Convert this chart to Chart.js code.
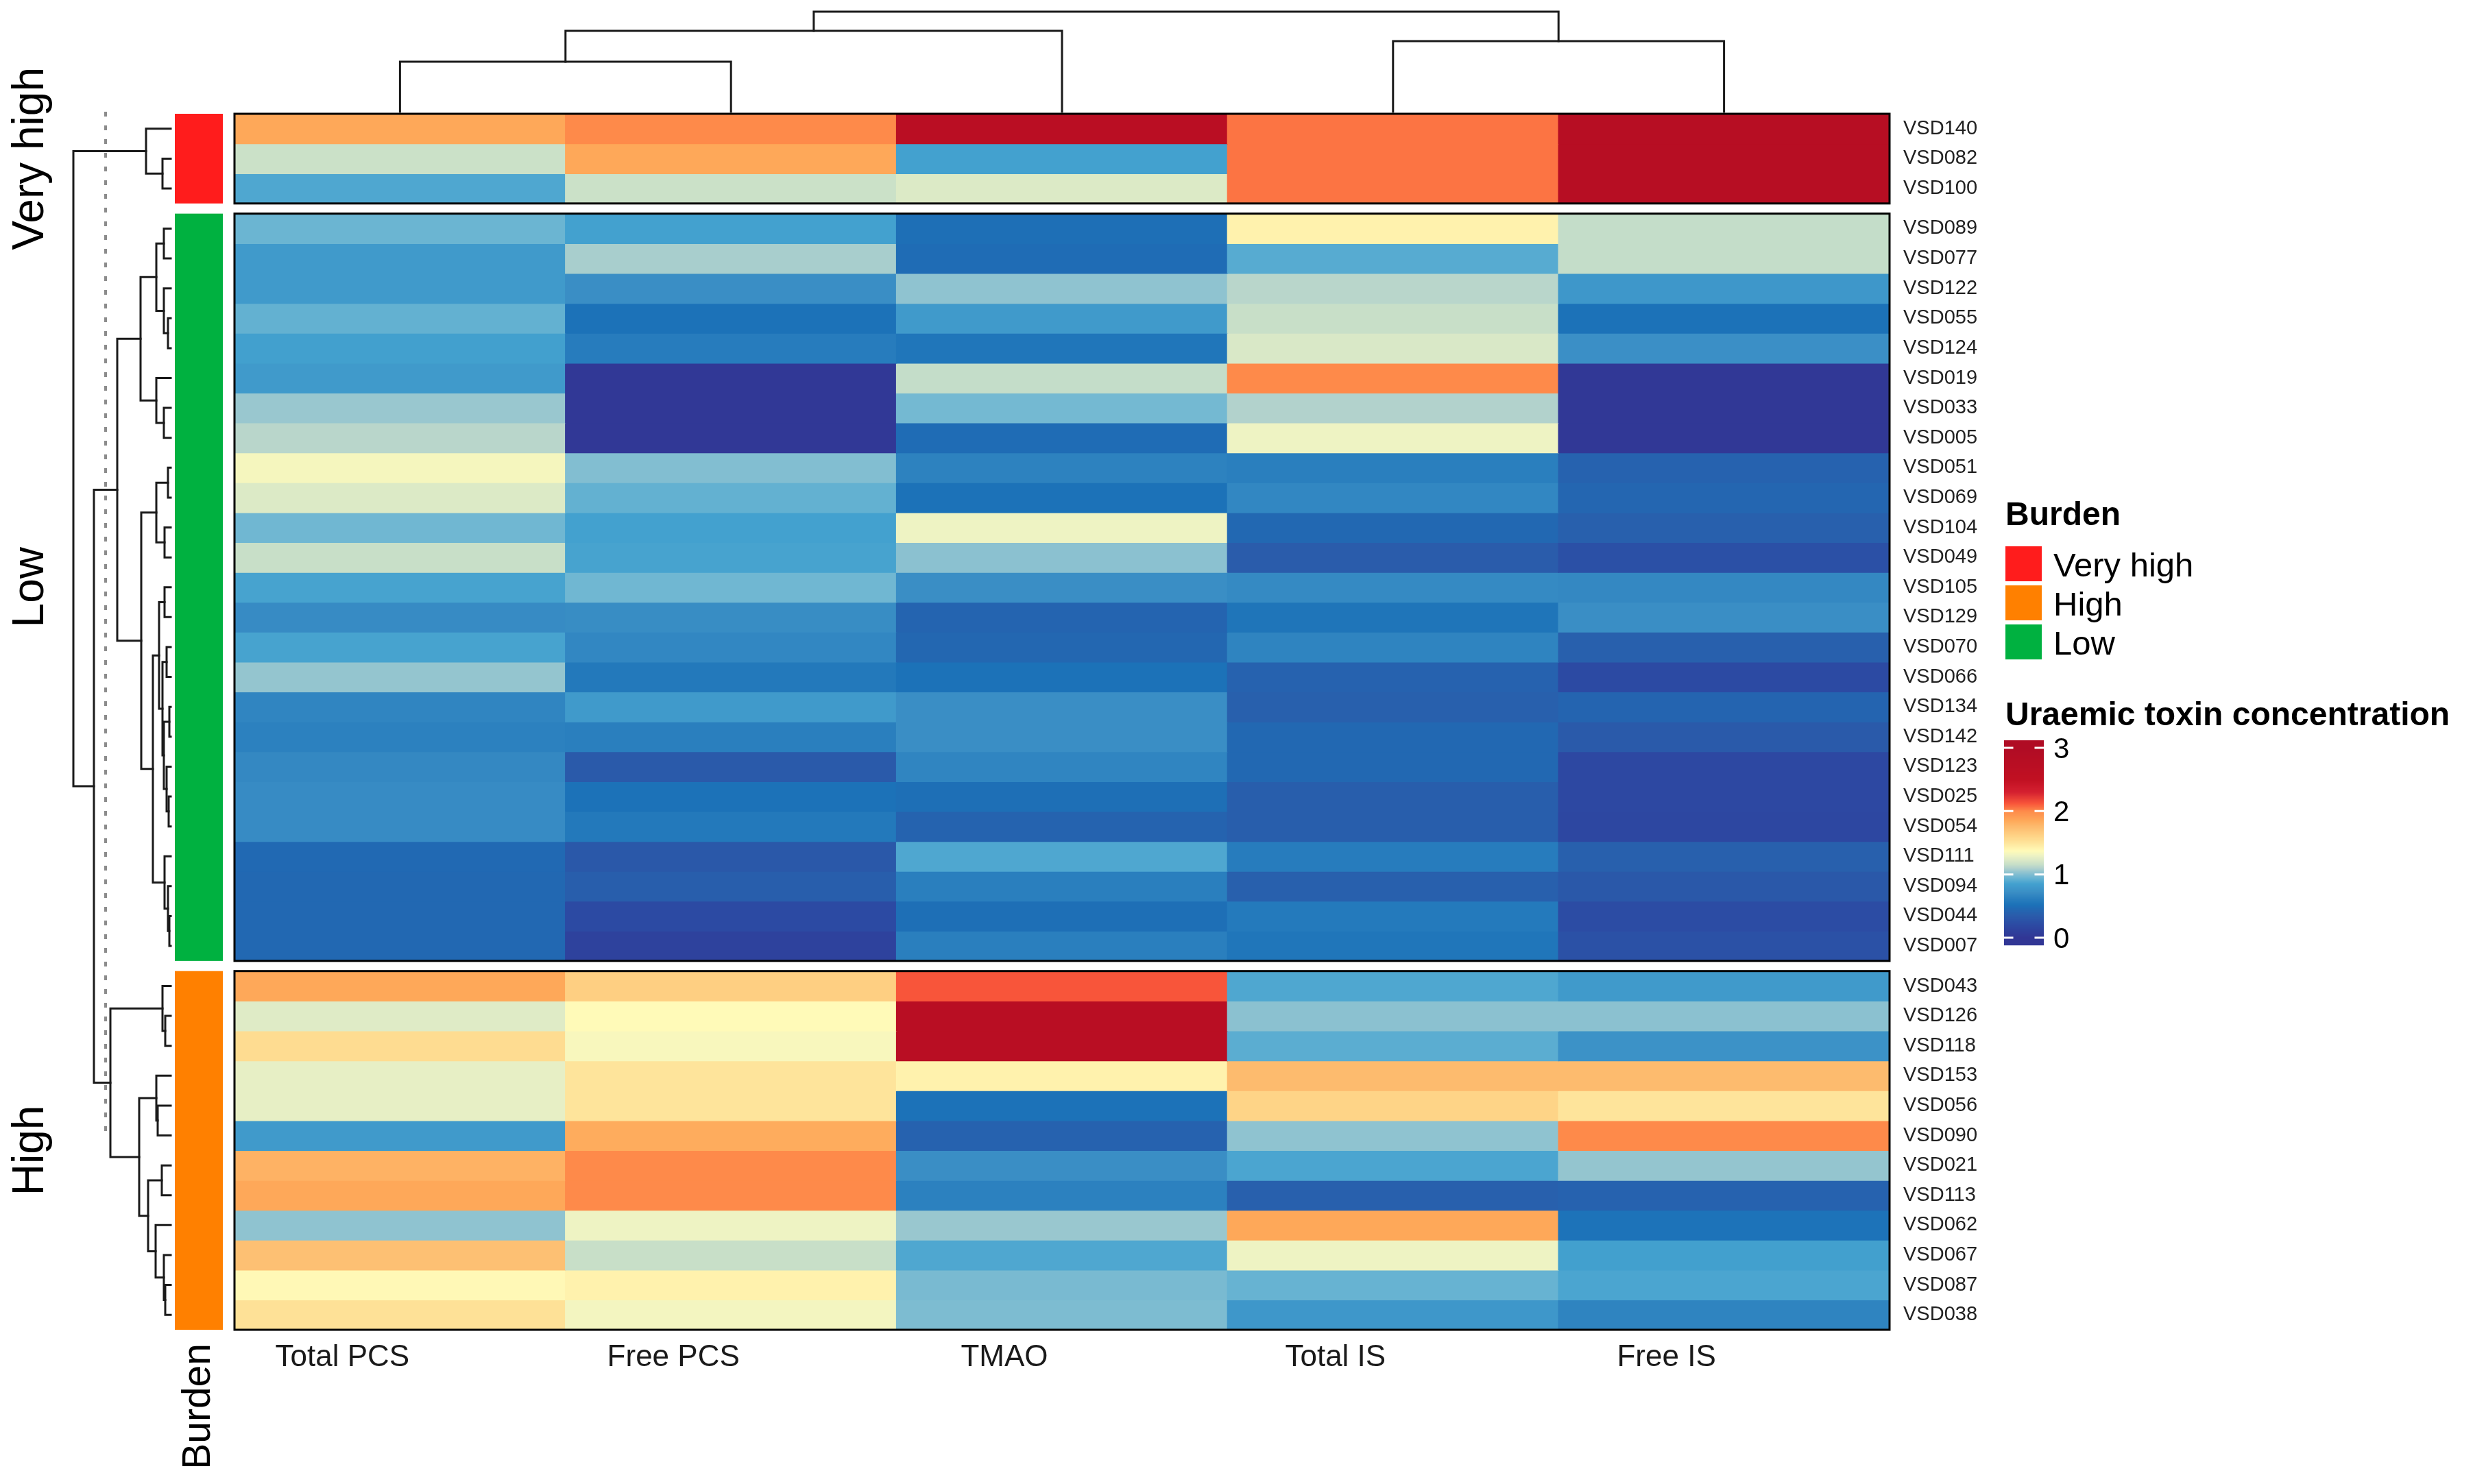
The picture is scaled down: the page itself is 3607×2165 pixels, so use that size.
<!DOCTYPE html>
<html>
<head>
<meta charset="utf-8">
<script src="https://cdn.jsdelivr.net/npm/chart.js@4.4.1/dist/chart.umd.min.js"></script>
<style>
  html, body { margin: 0; padding: 0; background: #fff; }
  #wrap { position: relative; width: 3607px; height: 2165px; }
</style>
</head>
<body>
<div id="wrap"><canvas id="heatmap"></canvas></div>
<script>
// toxins (columns) and samples (rows, in dendrogram order)
const toxins = ['Total PCS', 'Free PCS', 'TMAO', 'Total IS', 'Free IS'];
const samples = [
  'VSD140', 'VSD082', 'VSD100',
  'VSD089', 'VSD077', 'VSD122', 'VSD055', 'VSD124', 'VSD019', 'VSD033', 'VSD005', 'VSD051',
  'VSD069', 'VSD104', 'VSD049', 'VSD105', 'VSD129', 'VSD070', 'VSD066', 'VSD134', 'VSD142',
  'VSD123', 'VSD025', 'VSD054', 'VSD111', 'VSD094', 'VSD044', 'VSD007',
  'VSD043', 'VSD126', 'VSD118', 'VSD153', 'VSD056', 'VSD090', 'VSD021', 'VSD113', 'VSD062',
  'VSD067', 'VSD087', 'VSD038'
];
const burdenGroups = ['Very high', 'Low', 'High'];
const burdenCounts = [3, 25, 12];
const burdenColors = { 'Very high': '#ff1c1c', 'High': '#ff8000', 'Low': '#00b140' };
const legendOrder = ['Very high', 'High', 'Low'];

// uraemic toxin concentration (scaled), one array per toxin
const totalPCS = [1.85, 1.17, 0.88,
  0.95, 0.80, 0.80, 0.93, 0.84, 0.80, 1.05, 1.12, 1.33, 1.23, 0.96, 1.16, 0.86, 0.70, 0.86,
  1.04, 0.66, 0.63, 0.68, 0.70, 0.70, 0.46, 0.45, 0.45, 0.45,
  1.85, 1.24, 1.55, 1.27, 1.27, 0.80, 1.80, 1.85, 1.03, 1.72, 1.38, 1.52];
const freePCS = [2.00, 1.85, 1.17,
  0.85, 1.08, 0.72, 0.52, 0.60, 0.02, 0.02, 0.02, 1.00, 0.93, 0.85, 0.86, 0.96, 0.71, 0.67,
  0.57, 0.80, 0.62, 0.33, 0.52, 0.57, 0.32, 0.37, 0.20, 0.12,
  1.63, 1.37, 1.34, 1.50, 1.50, 1.83, 2.00, 2.00, 1.30, 1.16, 1.42, 1.32];
const tmao = [2.70, 0.85, 1.23,
  0.50, 0.48, 1.03, 0.80, 0.55, 1.15, 0.97, 0.48, 0.64, 0.52, 1.30, 1.02, 0.72, 0.42, 0.44,
  0.52, 0.72, 0.72, 0.66, 0.50, 0.41, 0.88, 0.62, 0.50, 0.62,
  2.12, 2.75, 2.75, 1.42, 0.52, 0.40, 0.72, 0.63, 1.05, 0.88, 0.98, 0.99];
const totalIS = [2.05, 2.05, 2.05,
  1.42, 0.90, 1.12, 1.16, 1.22, 2.00, 1.10, 1.30, 0.62, 0.67, 0.45, 0.35, 0.69, 0.54, 0.65,
  0.40, 0.38, 0.45, 0.45, 0.37, 0.37, 0.60, 0.38, 0.58, 0.55,
  0.88, 1.02, 0.91, 1.75, 1.60, 1.03, 0.87, 0.38, 1.85, 1.30, 0.94, 0.78];
const freeIS = [2.80, 2.80, 2.80,
  1.15, 1.15, 0.78, 0.52, 0.73, 0.02, 0.02, 0.02, 0.40, 0.43, 0.38, 0.25, 0.68, 0.72, 0.38,
  0.20, 0.42, 0.33, 0.18, 0.18, 0.17, 0.38, 0.32, 0.22, 0.26,
  0.80, 1.02, 0.75, 1.75, 1.50, 2.00, 1.04, 0.40, 0.53, 0.84, 0.87, 0.65];
const columns = [totalPCS, freePCS, tmao, totalIS, freeIS];

// hierarchical clustering trees: [height, left, right], leaves are row / column indices
const rowTree = [1.42,
  [0.36, 0, [0.12, 1, 2]],
  [1.12,
    [0.78,
      [0.44,
        [0.21, [0.10, 3, 4], [0.10, 5, [0.04, 6, 7]]],
        [0.21, 8, [0.10, 9, 10]]],
      [0.43,
        [0.21, [0.04, 11, 12], [0.09, 13, 14]],
        [0.26,
          [0.17, [0.09, 15, 16], [0.12, [0.06, 17, 18], [0.10, [0.02, 19, 20], [0.06, 21, [0.03, 22, 23]]]]],
          [0.09, 24, [0.04, 25, [0.02, 26, 27]]]]]],
    [0.88,
      [0.12, 28, [0.08, 29, 30]],
      [0.46,
        [0.21, 31, [0.19, 32, 33]],
        [0.33, [0.13, 34, 35], [0.22, 36, [0.10, 37, [0.08, 38, 39]]]]]]]];
const colTree = [1.46, [1.18, [0.73, 0, 1], 2], [1.03, 3, 4]];
const cutHeight = 0.95;

const legendTicks = [0, 1, 2, 3];
const legendRange = [-0.12, 3.12];

// colour ramp (value -> colour)
const rampStops = [
  [0.00, '#313695'], [0.20, '#2c4aa3'], [0.35, '#2a5cab'], [0.45, '#2268b2'], [0.52, '#1c72b8'],
  [0.62, '#2a7fbe'], [0.72, '#3a8ec5'], [0.85, '#43a1cf'], [0.95, '#6bb5d2'], [1.03, '#8fc3d0'],
  [1.10, '#b2d2cc'], [1.16, '#c8dfc8'], [1.24, '#dfebc6'], [1.30, '#eef3c3'], [1.37, '#fffab8'],
  [1.50, '#fee49b'], [1.60, '#fed487'], [1.75, '#fdbb6e'], [1.85, '#fea859'], [2.00, '#fe8a4a'],
  [2.12, '#f8553a'], [2.30, '#d42030'], [2.50, '#c11022'], [3.00, '#b00c24']
];
function hexRgb(h) {
  return [parseInt(h.slice(1, 3), 16), parseInt(h.slice(3, 5), 16), parseInt(h.slice(5, 7), 16)];
}
function colorAt(v) {
  if (v <= rampStops[0][0]) return rampStops[0][1];
  for (let i = 1; i < rampStops.length; i++) {
    if (v <= rampStops[i][0]) {
      const [v0, c0] = rampStops[i - 1], [v1, c1] = rampStops[i];
      const t = (v - v0) / (v1 - v0), a = hexRgb(c0), b = hexRgb(c1);
      return 'rgb(' + a.map((x, k) => Math.round(x + (b[k] - x) * t)).join(',') + ')';
    }
  }
  return rampStops[rampStops.length - 1][1];
}

// row layout: rows stacked top to bottom with a small gap between burden groups
const GAP = 0.34;
const rowGroup = [];
burdenGroups.forEach((g, k) => { for (let i = 0; i < burdenCounts[k]; i++) rowGroup.push(g); });
const rowStart = [];
let pos = 0;
samples.forEach((s, i) => {
  if (i > 0 && rowGroup[i] !== rowGroup[i - 1]) pos += GAP;
  rowStart.push(pos);
  pos += 1;
});
const yMax = pos;
const rowCenters = rowStart.map(v => v + 0.5);

const FONT = "'Liberation Sans', Arial, Helvetica, sans-serif";

const datasets = samples.map((s, i) => ({
  label: s,
  data: toxins.map(() => [rowStart[i], rowStart[i] + 1]),
  backgroundColor: columns.map(col => colorAt(col[i])),
  borderWidth: 0,
  barPercentage: 1,
  categoryPercentage: 1,
  grouped: false,
  inflateAmount: 0.7
}));

// draws dendrograms, burden annotation, panel borders and legends
const heatmapDecor = {
  id: 'heatmapDecor',
  afterDraw(chart) {
    const { ctx, chartArea: area, scales: { x, y } } = chart;
    const unit = 100; // px per unit of dendrogram height
    ctx.save();

    // panel borders + annotation strip + group names
    let first = 0;
    burdenGroups.forEach((g, k) => {
      const last = first + burdenCounts[k] - 1;
      const top = y.getPixelForValue(rowStart[first]);
      const bot = y.getPixelForValue(rowStart[last] + 1);
      ctx.fillStyle = burdenColors[g];
      ctx.fillRect(area.left - 87, top, 70, bot - top);
      ctx.strokeStyle = '#000';
      ctx.lineWidth = 3;
      ctx.strokeRect(area.left, top, area.right - area.left, bot - top);
      ctx.save();
      ctx.translate(45, (top + bot) / 2);
      ctx.rotate(-Math.PI / 2);
      ctx.fillStyle = '#000';
      ctx.font = '64px ' + FONT;
      ctx.textAlign = 'center';
      ctx.textBaseline = 'middle';
      ctx.fillText(g, 0, 0);
      ctx.restore();
      first = last + 1;
    });

    // "Burden" annotation name
    ctx.save();
    ctx.translate(area.left - 52, area.bottom + 20);
    ctx.rotate(-Math.PI / 2);
    ctx.fillStyle = '#000';
    ctx.font = '57px ' + FONT;
    ctx.textAlign = 'right';
    ctx.textBaseline = 'middle';
    ctx.fillText('Burden', 0, 0);
    ctx.restore();

    // cut line
    ctx.strokeStyle = '#8c8c8c';
    ctx.lineWidth = 4;
    ctx.setLineDash([7, 13]);
    const cutX = area.left - 93 - cutHeight * unit;
    ctx.beginPath();
    ctx.moveTo(cutX, area.top - 3);
    ctx.lineTo(cutX, y.getPixelForValue(rowCenters[33]));
    ctx.stroke();
    ctx.setLineDash([]);

    // dendrograms
    ctx.strokeStyle = '#1a1a1a';
    ctx.lineWidth = 3;
    ctx.lineCap = 'square';
    function drawTree(node, leafPos, base, dir, horizontal) {
      if (!Array.isArray(node)) return { p: leafPos(node), h: 0 };
      const [h, a, b] = node;
      const ca = drawTree(a, leafPos, base, dir, horizontal);
      const cb = drawTree(b, leafPos, base, dir, horizontal);
      const hp = base - dir * h * unit;
      ctx.beginPath();
      [ca, cb].forEach(c => {
        const cp = base - dir * c.h * unit;
        if (horizontal) { ctx.moveTo(cp, c.p); ctx.lineTo(hp, c.p); }
        else { ctx.moveTo(c.p, cp); ctx.lineTo(c.p, hp); }
      });
      if (horizontal) { ctx.moveTo(hp, ca.p); ctx.lineTo(hp, cb.p); }
      else { ctx.moveTo(ca.p, hp); ctx.lineTo(cb.p, hp); }
      ctx.stroke();
      return { p: (ca.p + cb.p) / 2, h: h };
    }
    drawTree(rowTree, i => y.getPixelForValue(rowCenters[i]), area.left - 93, 1, true);
    drawTree(colTree, j => x.getPixelForValue(j), area.top - 3, 1, false);

    // legend: Burden
    const lx = area.right + 169;
    ctx.fillStyle = '#000';
    ctx.textAlign = 'left';
    ctx.textBaseline = 'alphabetic';
    ctx.font = 'bold 48px ' + FONT;
    ctx.fillText('Burden', lx, 766);
    legendOrder.forEach((g, k) => {
      const sy = 797 + k * 57;
      ctx.fillStyle = burdenColors[g];
      ctx.fillRect(lx, sy, 53, 51);
      ctx.fillStyle = '#000';
      ctx.font = '49px ' + FONT;
      ctx.fillText(g, lx + 70, sy + 44);
    });

    // legend: colour bar
    ctx.font = 'bold 48px ' + FONT;
    ctx.fillText('Uraemic toxin concentration', lx, 1058);
    const barTop = 1080, barBot = 1379, bw = 58;
    const vToY = v => barBot - (v - legendRange[0]) / (legendRange[1] - legendRange[0]) * (barBot - barTop);
    for (let py = barTop; py < barBot; py++) {
      const v = legendRange[0] + (barBot - py - 0.5) / (barBot - barTop) * (legendRange[1] - legendRange[0]);
      ctx.fillStyle = colorAt(v);
      ctx.fillRect(lx - 2, py, bw, 1.2);
    }
    ctx.strokeStyle = '#fff';
    ctx.lineWidth = 3;
    ctx.font = '42px ' + FONT;
    ctx.textBaseline = 'middle';
    legendTicks.forEach(t => {
      const ty = vToY(t);
      ctx.beginPath();
      ctx.moveTo(lx - 2, ty); ctx.lineTo(lx + 10, ty);
      ctx.moveTo(lx + bw - 14, ty); ctx.lineTo(lx + bw - 2, ty);
      ctx.stroke();
      ctx.fillStyle = '#000';
      ctx.fillText(String(t), lx + 70, ty + 3);
    });

    ctx.restore();
  }
};

new Chart(document.getElementById('heatmap'), {
  type: 'bar',
  data: { labels: toxins, datasets: datasets },
  options: {
    responsive: true,
    maintainAspectRatio: false,
    devicePixelRatio: 1,
    animation: false,
    layout: { padding: { left: 342, top: 166, right: 691, bottom: 155 } },
    plugins: { legend: { display: false }, tooltip: { enabled: false } },
    scales: {
      x: {
        type: 'category',
        grid: { display: false },
        border: { display: false },
        ticks: { color: '#1a1a1a', font: { family: FONT, size: 44 }, padding: 6, labelOffset: -84, maxRotation: 0 },
        afterFit: s => { s.height = 70; }
      },
      y: {
        type: 'linear',
        position: 'right',
        reverse: true,
        min: 0,
        max: yMax,
        bounds: 'data',
        grid: { display: false },
        border: { display: false },
        afterBuildTicks: s => { s.ticks = rowCenters.map(v => ({ value: v })); },
        ticks: {
          autoSkip: false,
          color: '#222',
          padding: 12,
          font: { family: FONT, size: 29 },
          callback: (v, i) => samples[i]
        },
        afterFit: s => { s.width = 160; }
      }
    }
  },
  plugins: [heatmapDecor]
});
</script>
</body>
</html>
